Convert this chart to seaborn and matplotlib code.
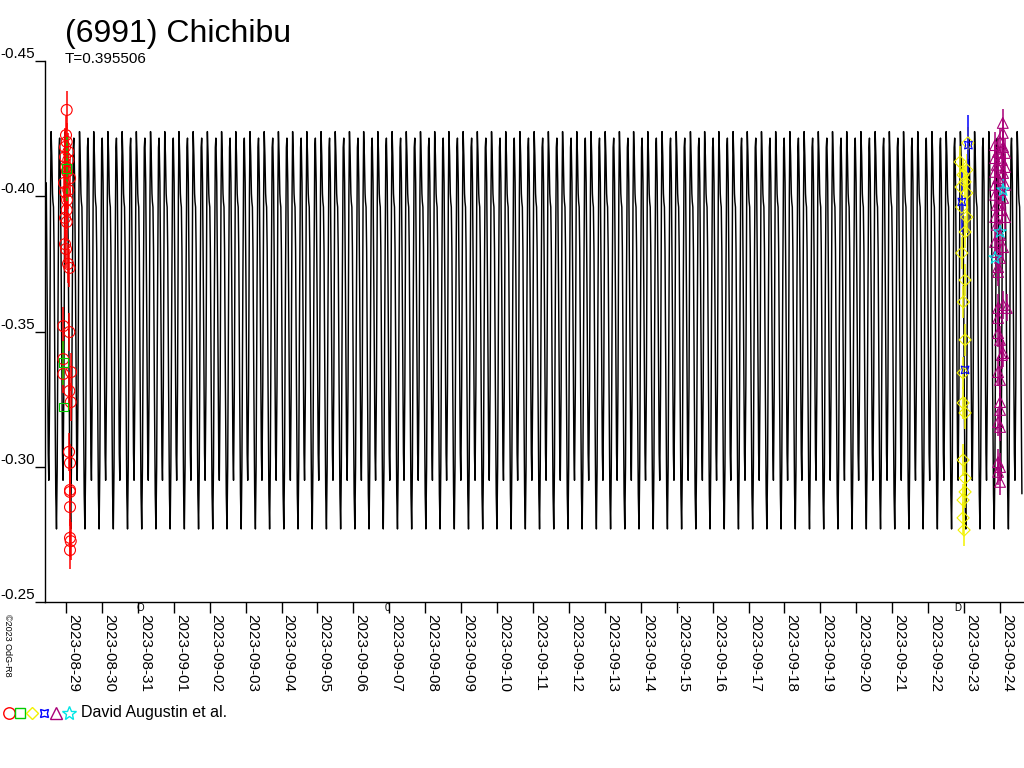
import numpy as np
import pandas as pd
import matplotlib
matplotlib.use("Agg")
import matplotlib.pyplot as plt
import matplotlib.dates as mdates
import seaborn as sns

title = "(6991) Chichibu"
period = 0.395506
credit = "David Augustin et al."
stamp = "\u00a92023 OdG-R8"
start = pd.Timestamp("2023-08-29")

# model lightcurve, one rotation (phase, rel. mag)
tpl_phase = [0.00, 0.05, 0.10, 0.13, 0.17, 0.21, 0.27, 0.33, 0.38, 0.43, 0.50,
             0.56, 0.60, 0.66, 0.72, 0.80, 0.84, 0.90, 0.96]
tpl_mag = [-0.4239, -0.415, -0.401, -0.398, -0.396, -0.380, -0.330, -0.290, -0.277, -0.300,
           -0.370, -0.418, -0.4215, -0.405, -0.365, -0.305, -0.295, -0.330, -0.400]
curve_from, curve_to, phase_zero = -0.557, 26.61, -0.02

# observations: days after 2023-08-29 00:00 UT, rel. mag, error
red_t = [0.019, 0.0, 0.019, -0.028, 0.064, -0.028, 0.064, 0.0, 0.028, 0.111, -0.056, 0.064,
         -0.028, 0.028, 0.019, -0.028, 0.019, -0.028, 0.0, 0.056, 0.097, -0.075, 0.092,
         -0.075, 0.139, -0.075, 0.092, 0.131, 0.084, 0.111, 0.111, 0.111, 0.111, 0.111,
         0.131, 0.111]
red_mag = [-0.4319, -0.4226, -0.4201, -0.4182, -0.4164, -0.4145, -0.4134, -0.4108, -0.4090,
           -0.4067, -0.4049, -0.4023, -0.4016, -0.3986, -0.3949, -0.3920, -0.3905, -0.3823,
           -0.3805, -0.3750, -0.3735, -0.3520, -0.3498, -0.3398, -0.3350, -0.3343, -0.3280,
           -0.3239, -0.3055, -0.3014, -0.2914, -0.2907, -0.2851, -0.2737, -0.2725, -0.2692]
red_err = 0.007

green_t = [0.019, -0.075, -0.075]
green_mag = [-0.4104, -0.3384, -0.3221]
green_err = [0.012, 0.008, 0.0]

yellow_t = [25.103, 24.889, 25.075, 24.972, 25.028, 24.917, 25.075, 24.936, 25.075, 25.028,
            24.936, 25.028, 24.981, 25.028, 24.972, 24.972, 25.028, 24.972, 25.028, 25.028,
            24.972, 24.972, 25.000]
yellow_mag = [-0.4197, -0.4127, -0.4097, -0.4079, -0.4053, -0.4034, -0.4012, -0.3960, -0.3923,
              -0.3868, -0.3790, -0.3690, -0.3609, -0.3469, -0.3347, -0.3236, -0.3199, -0.3025,
              -0.2958, -0.2907, -0.2877, -0.2811, -0.2766]
yellow_err = 0.006

blue_t = [25.120, 24.936, 25.028]
blue_mag = [-0.4189, -0.3979, -0.3358]
blue_err = [0.011, 0.011, 0.0]

magenta_t = [26.077, 26.077, 26.002, 25.863, 26.086, 25.947, 26.141, 25.863, 26.050, 25.910,
             26.141, 25.863, 26.086, 25.947, 25.863, 26.141, 26.002, 25.863, 26.086, 25.910,
             26.050, 25.863, 26.141, 25.910, 26.002, 25.863, 26.086, 25.910, 26.002, 25.947,
             25.947, 26.086, 25.947, 26.189, 25.947, 25.947, 26.002, 26.086, 26.050, 25.947,
             26.002, 26.002, 26.002, 25.947, 26.002, 25.947, 26.002, 25.947, 26.002]
magenta_mag = [-0.4271, -0.4234, -0.4201, -0.4189, -0.4182, -0.4164, -0.4160, -0.4141, -0.4134,
               -0.4116, -0.4108, -0.4090, -0.4086, -0.4067, -0.4042, -0.4042, -0.4023, -0.4005,
               -0.3994, -0.3968, -0.3949, -0.3923, -0.3923, -0.3894, -0.3857, -0.3831, -0.3812,
               -0.3794, -0.3772, -0.3738, -0.3720, -0.3598, -0.3587, -0.3587, -0.3550, -0.3494,
               -0.3469, -0.3420, -0.3413, -0.3350, -0.3321, -0.3239, -0.3210, -0.3165, -0.3147,
               -0.3017, -0.2999, -0.2981, -0.2944]
magenta_err = 0.005

cyan_t = [26.086, 26.002, 25.863]
cyan_mag = [-0.4023, -0.3868, -0.3772]
cyan_err = [0.004, 0.0, 0.0]

# moon phases (days after 2023-08-29)
moon_t = [2.066, 8.931, 17.07, 24.81]
moon_sym = ["O", "0", "\u00b7", "D"]

observers = [
    (red_t, red_mag, red_err, "#ff0000", "o", 62),
    (green_t, green_mag, green_err, "#00cc00", "s", 40),
    (yellow_t, yellow_mag, yellow_err, "#f2f200", "D", 38),
    (blue_t, blue_mag, blue_err, "#0000ff", (4, 1, 45), 60),
    (magenta_t, magenta_mag, magenta_err, "#aa0078", "^", 60),
    (cyan_t, cyan_mag, cyan_err, "#00e6e6", "*", 90),
]


def to_time(days):
    return start + pd.to_timedelta(np.asarray(days, dtype=float), unit="D")


# repeat the one-rotation template with the period
n_cyc = int(np.ceil((curve_to - curve_from) / period)) + 3
cyc = np.repeat(np.arange(-2, n_cyc), len(tpl_phase))
ph = np.tile(tpl_phase, n_cyc + 2)
model_t = phase_zero + (cyc + ph) * period
model_mag = np.tile(tpl_mag, n_cyc + 2)
keep = (model_t >= curve_from) & (model_t <= curve_to)
model = pd.DataFrame({"time": to_time(model_t[keep]), "mag": model_mag[keep]})

sns.set_style("ticks")
plt.rcParams["font.family"] = ["Liberation Sans", "DejaVu Sans"]
plt.rcParams.update({"text.color": "black", "xtick.color": "black", "ytick.color": "black",
                     "axes.edgecolor": "black", "axes.labelcolor": "black"})

fig = plt.figure(figsize=(10.24, 7.68), dpi=100)
ax = fig.add_axes([45 / 1024, 166 / 768, 978 / 1024, 541 / 768])

sns.lineplot(data=model, x="time", y="mag", color="black", lw=1.05,
             estimator=None, sort=False, ax=ax)

for t, m, e, c, mk, s in observers:
    tt = to_time(t)
    ax.errorbar(tt, m, yerr=e, fmt="none", ecolor=c, elinewidth=1.1, zorder=3)
    sns.scatterplot(x=tt, y=m, marker=mk, s=s, facecolor="none", edgecolor=c,
                    linewidth=0.8, ax=ax, zorder=4)

# magnitudes: brighter upwards
ax.set_ylim(-0.25, -0.45)
ax.set_xlim(to_time([-0.585])[0], to_time([26.64])[0])
ax.set_yticks([-0.45, -0.40, -0.35, -0.30, -0.25])
ax.yaxis.set_major_formatter(plt.FuncFormatter(lambda v, _: f"{v:.2f}"))
ax.xaxis.set_major_locator(mdates.DayLocator())
ax.xaxis.set_major_formatter(mdates.DateFormatter("%Y-%m-%d"))
ax.set_xlabel("")
ax.set_ylabel("")

ax.tick_params(axis="x", length=8, width=1, pad=1, labelsize=11)
ax.tick_params(axis="y", length=7, width=1, pad=0, labelsize=11)
for lab in ax.get_xticklabels():
    lab.set_rotation(270)
    lab.set_ha("left")
    lab.set_va("top")
for lab in ax.get_yticklabels():
    lab.set_va("bottom")
sns.despine(ax=ax)
for sp in ["left", "bottom"]:
    ax.spines[sp].set_linewidth(1.0)

for t, sym in zip(moon_t, moon_sym):
    ax.text(to_time([t])[0], -0.2495, sym, fontsize=7, ha="center", va="top")

fig.text(65 / 1024, 1 - 42 / 768, title, fontsize=23, va="baseline")
fig.text(65 / 1024, 1 - 63 / 768, f"T={period}", fontsize=11, va="baseline")
fig.text(3 / 1024, 1 - 614 / 768, stamp, fontsize=6.5, rotation=270, ha="left", va="top")

# observer key along the bottom
leg_x = [9, 20, 32, 44, 56, 69]
for x, (_, _, _, c, mk, s) in zip(leg_x, observers):
    fig.add_artist(plt.Line2D([x / 1024], [1 - 713 / 768], marker=mk, markersize=np.sqrt(s) * 1.05,
                              markerfacecolor="none", markeredgecolor=c, markeredgewidth=1.0,
                              linestyle="none", transform=fig.transFigure))
fig.text(81 / 1024, 1 - 713 / 768, credit, fontsize=11.5, va="center")

fig.savefig("out.png", dpi=100)
